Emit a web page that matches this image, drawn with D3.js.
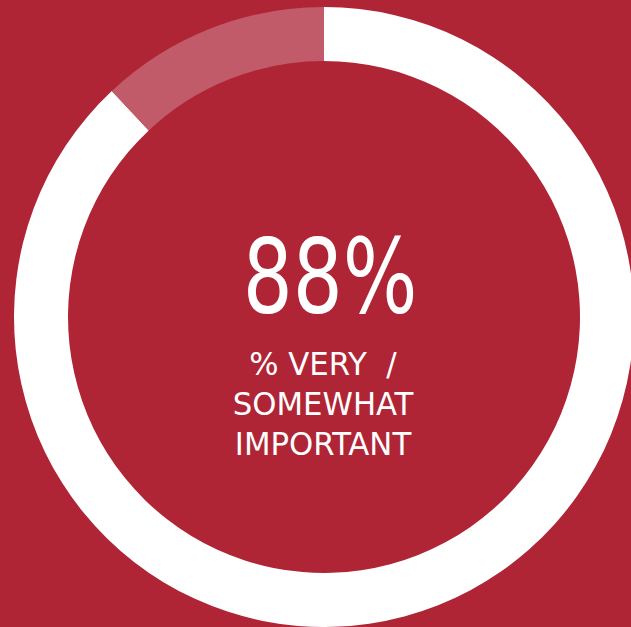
<!DOCTYPE html>
<html><head><meta charset="utf-8">
<script src="https://cdn.jsdelivr.net/npm/d3@7"></script>
<style>html,body{margin:0;padding:0;background:#AF2536;overflow:hidden}</style>
</head><body>
<svg id="c" width="631" height="627"></svg>
<script>
const categories = ["Very / somewhat important", "Other"];
const values = [88, 12];
const headline = "88%";
const labelLines = ["% VERY  /", "SOMEWHAT", "IMPORTANT"];

const W = 631, H = 627, cx = 324, cy = 317, R = 310, r = 256;
const svg = d3.select("#c");
svg.append("rect").attr("width", W).attr("height", H).attr("fill", "#AF2536");
const g = svg.append("g").attr("transform", `translate(${cx},${cy})`);
const pie = d3.pie().sort(null).value(d => d);
const arc = d3.arc().innerRadius(r).outerRadius(R);
const colors = d3.scaleOrdinal().domain(categories).range(["#FFFFFF", "#C25B69"]);
g.selectAll("path").data(pie(values)).join("path")
  .attr("d", arc).attr("fill", (d, i) => colors(categories[i]));

const font = "'DejaVu Sans Condensed','DejaVu Sans',sans-serif";
g.append("g").attr("transform", "translate(6,-4) scale(0.84,1)")
  .append("text").attr("x", 0).attr("y", 0).attr("text-anchor", "middle")
  .attr("font-family", font).attr("font-stretch", "condensed").attr("font-size", 104).attr("fill", "#fff")
  .text(headline);
g.selectAll("g.l").data(labelLines).join("g").attr("class", "l")
  .attr("transform", (d, i) => `translate(-1,${58 + i * 40}) scale(1.07,1)`)
  .append("text").attr("x", 0).attr("y", 0).attr("text-anchor", "middle")
  .attr("font-family", font).attr("font-stretch", "condensed").attr("font-size", 32).attr("fill", "#fff")
  .attr("xml:space", "preserve").style("white-space", "pre")
  .text(d => d);
</script>
</body></html>
